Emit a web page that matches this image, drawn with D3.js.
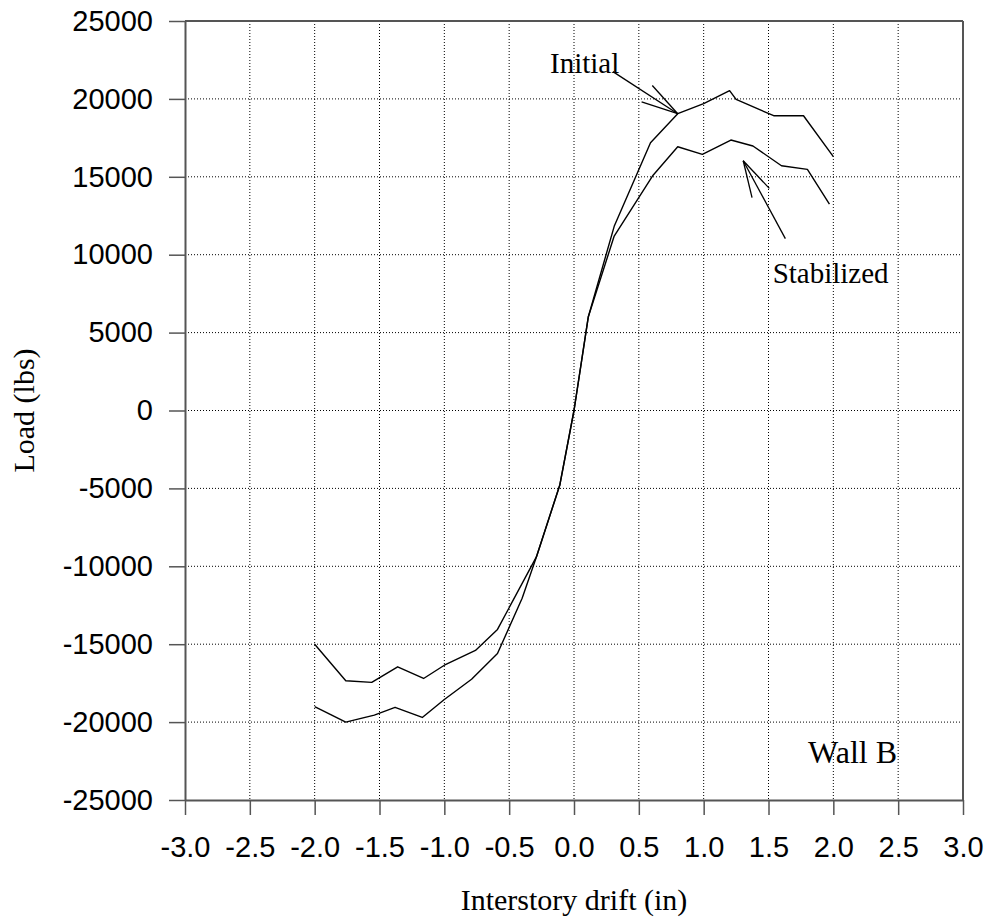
<!DOCTYPE html>
<html>
<head>
<meta charset="utf-8">
<script src="https://cdn.jsdelivr.net/npm/d3@7"></script>
<style>
  html, body { margin: 0; padding: 0; background: #fff; }
  svg { display: block; }
</style>
</head>
<body>
<svg id="chart" width="990" height="924"></svg>
<script>
// ---- data ----
const xTicks = [-3.0, -2.5, -2.0, -1.5, -1.0, -0.5, 0.0, 0.5, 1.0, 1.5, 2.0, 2.5, 3.0];
const yTicks = [-25000, -20000, -15000, -10000, -5000, 0, 5000, 10000, 15000, 20000, 25000];

const driftInitial = [-2.0, -1.76, -1.54, -1.38, -1.17, -1.0, -0.79, -0.59, -0.40, -0.29, -0.11, 0.0, 0.11, 0.31, 0.59, 0.80, 1.0, 1.2, 1.25, 1.54, 1.77, 2.0];
const loadInitial  = [-19000, -20000, -19550, -19050, -19700, -18550, -17250, -15600, -12050, -9400, -4800, 0, 6000, 11820, 17190, 19050, 19700, 20530, 19970, 18920, 18920, 16290];

const driftStabilized = [-2.0, -1.76, -1.56, -1.36, -1.16, -1.0, -0.76, -0.59, -0.29, -0.11, 0.0, 0.11, 0.31, 0.61, 0.80, 0.99, 1.21, 1.38, 1.60, 1.80, 1.97];
const loadStabilized  = [-15000, -17350, -17450, -16450, -17200, -16350, -15400, -14050, -9400, -4800, 0, 6000, 11200, 15100, 16930, 16440, 17360, 16980, 15710, 15480, 13250];

const annotationLabels = ["Initial", "Stabilized"];
const annotationTip = [[0.80, 19050], [1.305, 16030]];
const annotationTail = [[0.30, 21750], [1.63, 11030]];
const annotationText = [[-0.185, 21650], [1.532, 8184]];
const panelLabel = "Wall B";
const panelLabelPos = [1.805, -22625];
const xTitle = "Interstory drift (in)";
const yTitle = "Load (lbs)";

// ---- layout ----
const svg = d3.select("#chart");
const L = 185, R = 963, T = 21, B = 800;
const x = d3.scaleLinear().domain([-3, 3]).range([L, R]);
const y = d3.scaleLinear().domain([-25000, 25000]).range([B, T]);
const axisColor = "#555";
const sans = "'Liberation Sans', Arial, sans-serif";
const serif = "'Liberation Serif', 'Times New Roman', serif";

// grid
const grid = svg.append("g");
grid.selectAll("line.v").data(xTicks.filter(v => v > -3 && v < 3)).enter().append("line")
  .attr("x1", d => x(d)).attr("x2", d => x(d)).attr("y1", T).attr("y2", B)
  .attr("stroke", "#000").attr("stroke-width", 1).attr("stroke-dasharray", "1,2");
grid.selectAll("line.h").data(yTicks.filter(v => v > -25000 && v < 25000)).enter().append("line")
  .attr("x1", L).attr("x2", R).attr("y1", d => y(d)).attr("y2", d => y(d))
  .attr("stroke", "#000").attr("stroke-width", 1).attr("stroke-dasharray", "1,2");

// axes
const yAxis = svg.append("g").attr("transform", `translate(${L},0)`)
  .call(d3.axisLeft(y).tickValues(yTicks).tickSize(16).tickSizeOuter(0).tickPadding(16).tickFormat(d3.format("d")));
const xAxis = svg.append("g").attr("transform", `translate(0,${B})`)
  .call(d3.axisBottom(x).tickValues(xTicks).tickSize(15).tickSizeOuter(0).tickPadding(21).tickFormat(d3.format(".1f")));
[yAxis, xAxis].forEach(g => {
  g.selectAll("path.domain").attr("stroke", axisColor).attr("stroke-width", 2);
  g.selectAll(".tick line").attr("stroke", axisColor).attr("stroke-width", 1.5);
  g.selectAll(".tick text").attr("fill", "#000").style("font-family", sans).style("font-size", "29px");
});
xAxis.selectAll(".tick text").text(d => d3.format(".1f")(d).replace("−", "-"));
yAxis.selectAll(".tick text").text(d => String(d));
// frame top & right
svg.append("line").attr("x1", L).attr("x2", R).attr("y1", T).attr("y2", T).attr("stroke", axisColor).attr("stroke-width", 2);
svg.append("line").attr("x1", R).attr("x2", R).attr("y1", T).attr("y2", B).attr("stroke", axisColor).attr("stroke-width", 2);

// series
const line = d3.line().x(d => x(d[0])).y(d => y(d[1]));
const series = [d3.zip(driftInitial, loadInitial), d3.zip(driftStabilized, loadStabilized)];
svg.selectAll("path.series").data(series).enter().append("path")
  .attr("class", "series").attr("d", line)
  .attr("fill", "none").attr("stroke", "#000").attr("stroke-width", 1.4).attr("stroke-linejoin", "round");

// annotations (arrows)
annotationLabels.forEach((lab, i) => {
  const tx = x(annotationTip[i][0]), ty = y(annotationTip[i][1]);
  const sx = x(annotationTail[i][0]), sy = y(annotationTail[i][1]);
  const g = svg.append("g").attr("stroke", "#000").attr("stroke-width", 1.3);
  g.append("line").attr("x1", sx).attr("y1", sy).attr("x2", tx).attr("y2", ty);
  const ang = Math.atan2(sy - ty, sx - tx);
  [-1, 1].forEach(s => {
    const a = ang + s * 15 * Math.PI / 180;
    g.append("line").attr("x1", tx).attr("y1", ty)
      .attr("x2", tx + 38 * Math.cos(a)).attr("y2", ty + 38 * Math.sin(a));
  });
  svg.append("text").attr("x", x(annotationText[i][0])).attr("y", y(annotationText[i][1]))
    .style("font-family", serif).style("font-size", "29px").attr("fill", "#000").text(lab);
});

svg.append("text").attr("x", x(panelLabelPos[0])).attr("y", y(panelLabelPos[1]))
  .style("font-family", serif).style("font-size", "32px").attr("fill", "#000").text(panelLabel);

// titles
svg.append("text").attr("x", (L + R) / 2).attr("y", 910).attr("text-anchor", "middle")
  .style("font-family", serif).style("font-size", "30px").attr("fill", "#000").text(xTitle);
svg.append("text").attr("transform", `translate(34,${(348 + 473) / 2}) rotate(-90)`).attr("text-anchor", "middle")
  .style("font-family", serif).style("font-size", "30px").attr("fill", "#000").text(yTitle);
</script>
</body>
</html>
